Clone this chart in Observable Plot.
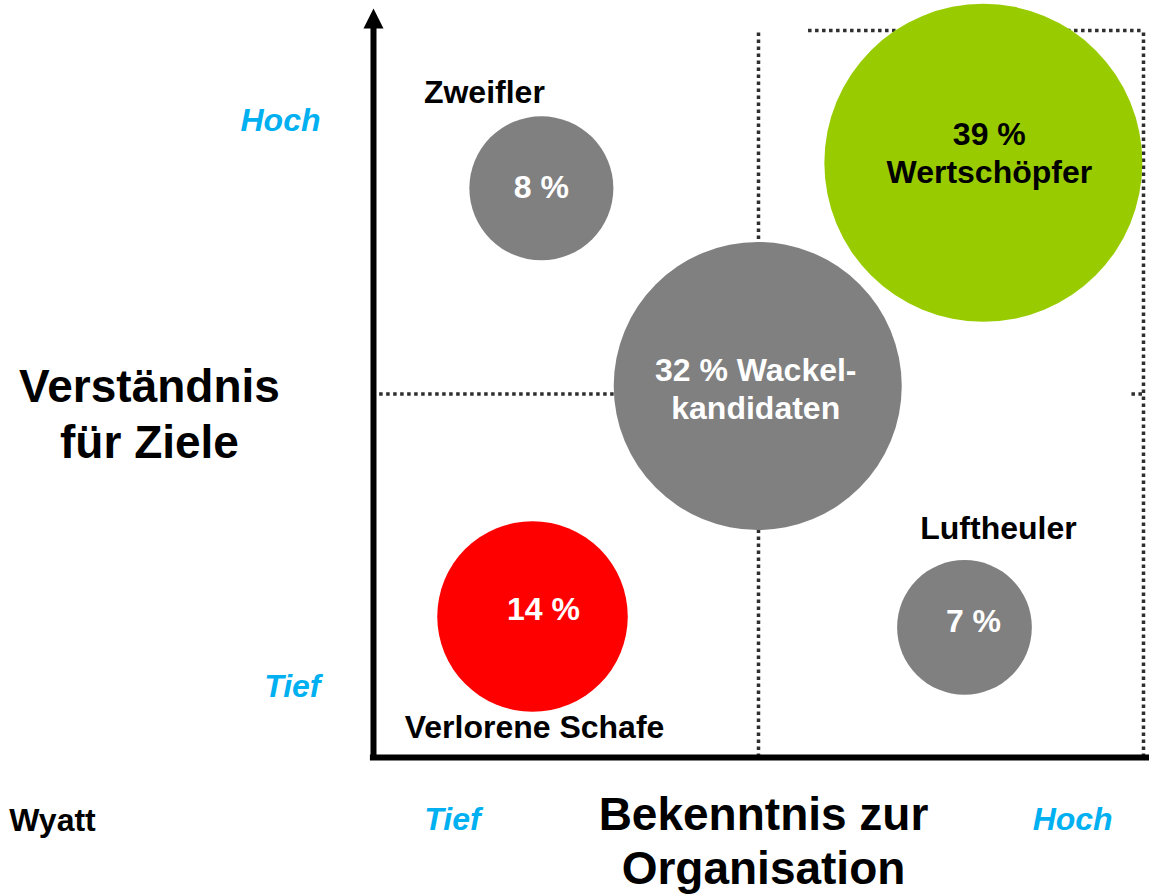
<!DOCTYPE html>
<html>
<head>
<meta charset="utf-8">
<script src="https://cdn.jsdelivr.net/npm/d3@7"></script>
<script src="https://cdn.jsdelivr.net/npm/@observablehq/plot@0.6"></script>
<style>
  html, body { margin: 0; padding: 0; background: #fff; }
  svg { display: block; }
</style>
</head>
<body>
<script>
// ---- Data ----
const segments     = ["Zweifler", "Wackelkandidaten", "Wertschöpfer", "Verlorene Schafe", "Luftheuler"];
const shares       = [8, 32, 39, 14, 7];                     // percent
const bekenntnis   = [0.218, 0.499, 0.792, 0.2065, 0.7675];  // commitment to organisation (0 = tief, 1 = hoch)
const verstaendnis = [0.783, 0.511, 0.818, 0.194, 0.179];    // understanding of goals (0 = tief, 1 = hoch)
const innerLabels  = ["8 %", "32 % Wackel-\nkandidaten", "39 %\nWertschöpfer", "14 %", "7 %"];

const xTicks = [0.1026, 0.908];
const xTickLabels = ["Tief", "Hoch"];
const yTicks = [0.0977, 0.876];
const yTickLabels = ["Tief", "Hoch"];

const palette = ["#808080", "#808080", "#99cc00", "#ff0000", "#808080"];

const rows = segments.map((s, i) => ({
  segment: s, share: shares[i], bekenntnis: bekenntnis[i], verstaendnis: verstaendnis[i], inner: innerLabels[i]
}));

const bold = {fontWeight: "bold", fontSize: 32};

const innerText = (seg, dx, dy, fill = "white") =>
  Plot.text(rows.filter(r => r.segment === seg), {
    x: "bekenntnis", y: "verstaendnis", text: "inner", dx, dy, fill, lineHeight: 1.17, ...bold
  });

const outerText = (seg, dx, dy) =>
  Plot.text(rows.filter(r => r.segment === seg), {
    x: "bekenntnis", y: "verstaendnis", text: "segment", dx, dy, fill: "black", ...bold
  });

const dotted = {stroke: "#2e2e2e", strokeWidth: 3.5, strokeDasharray: "3.5,3.5"};

const arrowHead = {
  draw(context) {
    context.moveTo(0, -10);
    context.lineTo(10, 10);
    context.lineTo(-10, 10);
    context.closePath();
  }
};

const chart = Plot.plot({
  width: 1149,
  height: 894,
  marginLeft: 373,
  marginRight: 6,
  marginTop: 30,
  marginBottom: 137,
  x: {domain: [0, 1]},
  y: {domain: [0, 1]},
  r: {type: "sqrt", domain: [0, 39], range: [0, 159]},
  color: {type: "ordinal", domain: segments, range: palette},
  style: {fontFamily: "Liberation Sans, Arial, Helvetica, sans-serif", background: "white", color: "black"},
  marks: [
    // dotted quadrant lines
    Plot.ruleX([0.5], {y1: 0, y2: 1, ...dotted}),
    Plot.ruleX([1], {y1: 0, y2: 1, ...dotted}),
    Plot.ruleY([1], {x1: 0.565, x2: 1, ...dotted}),
    Plot.ruleY([0.5], {x1: 0.008, x2: 0.68, ...dotted}),
    Plot.ruleY([0.5], {x1: 0.985, x2: 1, ...dotted}),

    // bubbles
    Plot.dot(rows, {x: "bekenntnis", y: "verstaendnis", r: "share", fill: "segment"}),

    // axes lines + arrow
    Plot.ruleY([0], {x1: -0.004, x2: 1.01, stroke: "black", strokeWidth: 6}),
    Plot.ruleX([0], {y1: -0.004, y2: 1.004, stroke: "black", strokeWidth: 6}),
    Plot.dot([0], {x: 0, y: 1.0165, symbol: arrowHead, fill: "black", stroke: "none"}),

    // tick labels
    Plot.axisX(xTicks, {
      tickFormat: d => xTickLabels[xTicks.indexOf(d)], tickSize: 0, tickPadding: 50,
      fontSize: 32, fontWeight: "bold", fontStyle: "italic", color: "#00b0f0", label: null
    }),
    Plot.axisY(yTicks, {
      tickFormat: d => yTickLabels[yTicks.indexOf(d)], tickSize: 0, tickPadding: 53,
      fontSize: 32, fontWeight: "bold", fontStyle: "italic", color: "#00b0f0", label: null
    }),

    // labels inside bubbles
    innerText("Zweifler", 0, -2),
    innerText("Wackelkandidaten", -2, 2),
    innerText("Wertschöpfer", 6, -11, "black"),
    innerText("Verlorene Schafe", 11, -8),
    innerText("Luftheuler", 9, -7),

    // labels outside bubbles
    outerText("Zweifler", -57, -96),
    outerText("Luftheuler", 34, -99),
    outerText("Verlorene Schafe", 2, 111),

    // axis titles and source
    Plot.text(["Verständnis\nfür Ziele"], {
      frameAnchor: "left", dx: -224, dy: 18, textAnchor: "middle", lineAnchor: "middle",
      lineHeight: 1.22, fontSize: 46, fontWeight: "bold", fill: "black"
    }),
    Plot.text(["Bekenntnis zur\nOrganisation"], {
      frameAnchor: "bottom", dx: 5, dy: 82, textAnchor: "middle", lineAnchor: "middle",
      lineHeight: 1.18, fontSize: 46, fontWeight: "bold", fill: "black"
    }),
    Plot.text(["Wyatt"], {
      frameAnchor: "bottom-left", dx: -321, dy: 63, textAnchor: "middle", lineAnchor: "middle",
      fontSize: 32, fontWeight: "bold", fill: "black"
    })
  ]
});

document.body.appendChild(chart);
</script>
</body>
</html>
